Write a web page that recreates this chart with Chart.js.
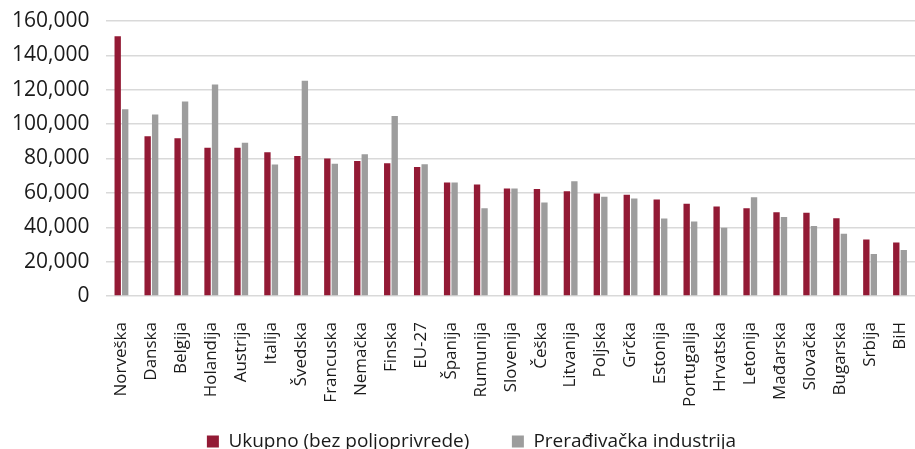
<!DOCTYPE html>
<html>
<head>
<meta charset="utf-8">
<script src="https://cdn.jsdelivr.net/npm/chart.js@4.4.1/dist/chart.umd.min.js"></script>
<style>
  html, body { margin: 0; padding: 0; background: #fff; overflow: hidden; }
  #wrap { width: 915px; height: 449px; }
</style>
</head>
<body>
<div id="wrap"><canvas id="chart"></canvas></div>
<script>
const countries = ['Norveška', 'Danska', 'Belgija', 'Holandija', 'Austrija', 'Italija', 'Švedska',
  'Francuska', 'Nemačka', 'Finska', 'EU-27', 'Španija', 'Rumunija', 'Slovenija', 'Češka',
  'Litvanija', 'Poljska', 'Grčka', 'Estonija', 'Portugalija', 'Hrvatska', 'Letonija',
  'Mađarska', 'Slovačka', 'Bugarska', 'Srbija', 'BiH'];

const ukupno = [151100, 93000, 91800, 86200, 86200, 83700, 81400,
  80000, 78500, 77300, 75000, 66000, 64900, 62600, 62200,
  61000, 59700, 58900, 56200, 53700, 52100, 51100,
  48800, 48400, 45300, 32900, 31200];

const preradjivacka = [108700, 105600, 113100, 123000, 89100, 76500, 125300,
  76900, 82500, 104800, 76700, 66000, 51100, 62600, 54400,
  66800, 57700, 56800, 45100, 43400, 39700, 57500,
  45900, 40700, 36200, 24400, 26700];

const seriesNames = ['Ukupno (bez poljoprivrede)', 'Prerađivačka industrija'];

const colors = {
  red: '#931a35',
  gray: '#9d9d9d',
  grid: '#d9d9d9',
  text: '#1a1a1a'
};

const fontFamily = '"Open Sans", "Noto Sans", sans-serif';

// legend sits a bit right of the canvas centre in the original
const legendShift = {
  id: 'legendShift',
  afterLayout(chart) {
    chart.legend.left += 14;
    chart.legend.right += 14;
  }
};

new Chart(document.getElementById('chart').getContext('2d'), {
  type: 'bar',
  data: {
    labels: countries,
    datasets: [
      { label: seriesNames[0], data: ukupno, backgroundColor: colors.red },
      { label: seriesNames[1], data: preradjivacka, backgroundColor: colors.gray }
    ]
  },
  plugins: [legendShift],
  options: {
    responsive: true,
    maintainAspectRatio: false,
    animation: false,
    datasets: {
      bar: { categoryPercentage: 0.5, barPercentage: 0.85 }
    },
    layout: { padding: { top: 21, right: -5, left: -5, bottom: -12 } },
    plugins: {
      tooltip: { enabled: false },
      legend: {
        position: 'bottom',
        labels: {
          color: colors.text,
          font: { family: fontFamily, size: 19 },
          boxWidth: 12,
          boxHeight: 12,
          padding: 8,
          // extra room between the two legend items, like the original
          generateLabels: chart => {
            const items = Chart.defaults.plugins.legend.labels.generateLabels(chart);
            items[0].text = items[0].text + '       ';
            return items;
          }
        }
      }
    },
    scales: {
      x: {
        grid: { display: false },
        border: { display: false },
        ticks: {
          color: colors.text,
          font: { family: fontFamily, size: 17 },
          minRotation: 90,
          maxRotation: 90,
          autoSkip: false,
          padding: 18
        },
        afterFit: s => {
          s.paddingLeft = 0;
          s.paddingRight = -5;
          s.height = 128;
        }
      },
      y: {
        min: 0,
        max: 160000,
        grid: { color: colors.grid, lineWidth: 1.5, drawTicks: false },
        border: { display: false },
        ticks: {
          stepSize: 20000,
          color: colors.text,
          font: { family: fontFamily, size: 21 },
          padding: 17,
          callback: v => v.toLocaleString('en-US')
        },
        afterFit: s => {
          s.paddingTop = 0;
          s.paddingBottom = 0;
        }
      }
    }
  }
});
</script>
</body>
</html>
